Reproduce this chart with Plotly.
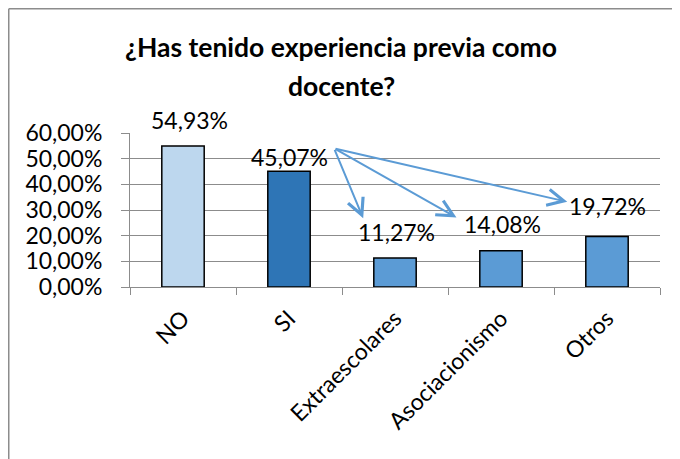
import plotly.graph_objects as go

categories = ["NO", "SI", "Extraescolares", "Asociacionismo", "Otros"]
values = [0.5493, 0.4507, 0.1127, 0.1408, 0.1972]
bar_colors = ["#BDD7EE", "#2E75B6", "#5B9BD5", "#5B9BD5", "#5B9BD5"]
label_texts = ["54,93%", "45,07%", "11,27%", "14,08%", "19,72%"]
label_offsets = [(6, 10), (0, -2), (1, 10), (1, 11), (0, 14)]
tick_vals = [0, 0.1, 0.2, 0.3, 0.4, 0.5, 0.6]
title_line1 = "¿Has tenido experiencia previa como"
title_line2 = "docente?"

# arrows from the SI label (start) to the sub-categories (tip), in axis units
arrow_start = (1.425, 0.540)
arrow_tips = [(1.70, 0.268), (2.58, 0.271), (3.625, 0.332)]

FONT = "Lato"
W, H = 672, 451
ML, MR, MT, MB = 122, 20, 125, 172
PW, PH = W - ML - MR, H - MT - MB

fig = go.Figure()
fig.add_trace(go.Bar(
    x=categories, y=values,
    marker=dict(color=bar_colors, line=dict(color="#000000", width=1.5)),
    width=0.4, hoverinfo="skip",
))

annotations = []
for c, v, t, (dx, dy) in zip(categories, values, label_texts, label_offsets):
    annotations.append(dict(x=c, y=v, text=t, showarrow=False, xref="x", yref="y",
                            yanchor="bottom", xshift=dx, yshift=dy,
                            font=dict(family=FONT, size=23, color="#000000")))
for tx, ty in arrow_tips:
    annotations.append(dict(x=tx, y=ty, ax=arrow_start[0], ay=arrow_start[1],
                            xref="x", yref="y", axref="x", ayref="y",
                            showarrow=True, arrowhead=5, arrowsize=1.6,
                            arrowwidth=2, arrowcolor="#5B9BD5", text="",
                            standoff=0))
annotations.append(dict(text="<b>" + title_line2 + "</b>", showarrow=False,
                        xref="paper", yref="paper",
                        x=(333 - ML) / PW, y=(MT + PH - 78) / PH,
                        xanchor="center", yanchor="middle",
                        font=dict(family=FONT, size=26.5, color="#000000")))

bx0 = (0.75 - ML) / PW
by1 = (MT + PH - 0.75) / PH
border = dict(color="#8C8C8C", width=1.5)

fig.update_layout(
    width=W, height=H,
    margin=dict(l=ML, r=MR, t=MT, b=MB, autoexpand=False),
    paper_bgcolor="white", plot_bgcolor="white",
    separators=",.",
    showlegend=False,
    title=dict(text=title_line1, x=333 / W, xref="container", xanchor="center",
               y=1 - 40 / H, yref="container", yanchor="middle",
               font=dict(family=FONT, size=26.5, color="#000000", weight="bold")),
    annotations=annotations,
    shapes=[
        dict(type="line", xref="paper", yref="paper", x0=bx0, x1=1.1, y0=by1, y1=by1,
             line=border, layer="below"),
        dict(type="line", xref="paper", yref="paper", x0=bx0, x1=bx0, y0=-1.2, y1=by1,
             line=border, layer="below"),
    ],
)
fig.update_yaxes(range=[0, 0.6], tickvals=tick_vals, tickformat=".2%",
                 showgrid=True, gridcolor="#8C8C8C", gridwidth=1,
                 showline=True, linecolor="#8C8C8C", linewidth=1,
                 ticks="outside", ticklen=8, tickcolor="#8C8C8C",
                 ticklabelstandoff=14,
                 tickfont=dict(family=FONT, size=23, color="#000000"),
                 zeroline=False, fixedrange=True, automargin=False)
fig.update_xaxes(showline=True, linecolor="#8C8C8C", linewidth=1,
                 ticks="outside", tickson="boundaries", ticklen=7, tickcolor="#8C8C8C",
                 tickangle=-45, showgrid=False, ticklabelstandoff=8,
                 tickfont=dict(family=FONT, size=23, color="#000000"),
                 fixedrange=True, automargin=False)

fig.write_html("out.html",
               post_script="document.documentElement.style.overflow='hidden';"
                           "document.body.style.overflow='hidden';")
